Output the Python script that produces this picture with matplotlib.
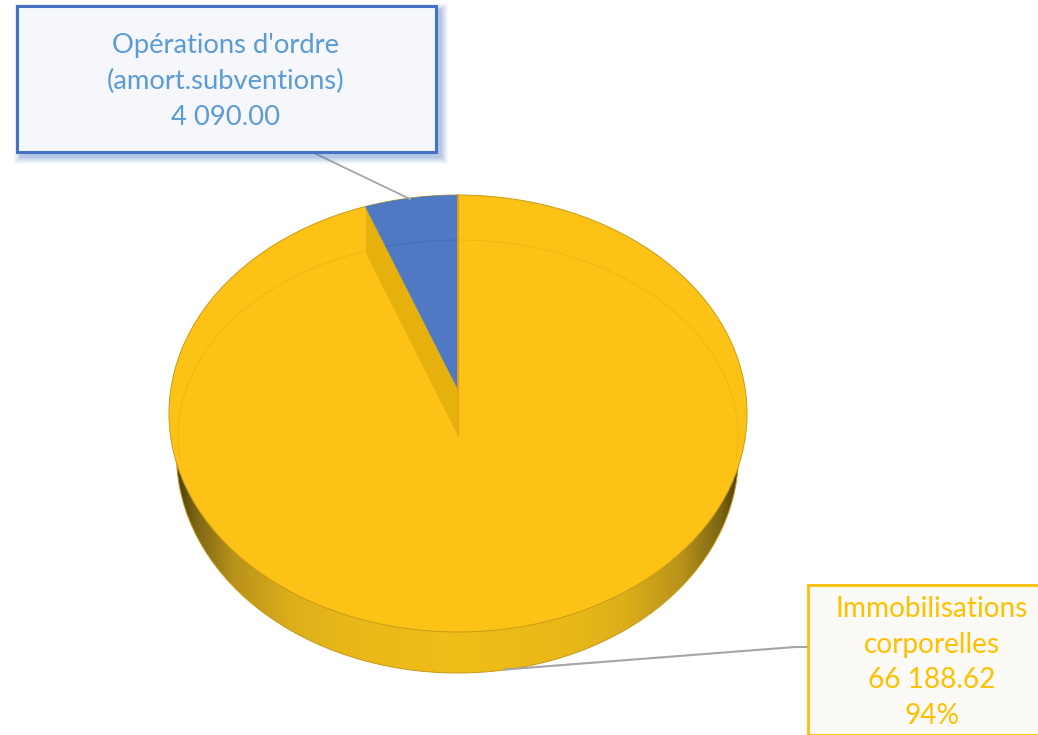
import numpy as np
import matplotlib
matplotlib.use("Agg")
import matplotlib.pyplot as plt
from matplotlib.patches import Ellipse, Wedge, Polygon, Rectangle, Arc
from matplotlib.transforms import Affine2D
from matplotlib.colors import LinearSegmentedColormap

plt.rcParams['font.family'] = ['Lato', 'DejaVu Sans']

categories = ["Opérations d'ordre\n(amort.subventions)", "Immobilisations\ncorporelles"]
values = [4090.00, 66188.62]
value_labels = ["4 090.00", "66 188.62"]
percent_labels = ["", "94%"]

fig = plt.figure(figsize=(10.38, 7.35), dpi=100)
ax = fig.add_axes([0, 0, 1, 1])
ax.set_xlim(0, 1038)
ax.set_ylim(735, 0)
ax.axis('off')

cx, cy, rx, ry = 458, 413.5, 289, 218.5
bx, by, brx, bry = 457.5, 455, 281, 218
apex_blue_y = 390
apex_yellow_y = 436
in_rx, in_ry = 280, 196
YEL = '#FDC216'

share = values[0] / sum(values)
span = 360 * share
th = np.deg2rad(90 + span)
aspect = rx / ry

# side (body) with gradient
cmap = LinearSegmentedColormap.from_list('side', [
    (0.00, '#4d3f10'), (0.03, '#7c6413'), (0.10, '#b8921a'), (0.20, '#dcae1a'),
    (0.30, '#e9b819'), (0.50, '#f1bd18'), (0.70, '#e9b819'), (0.80, '#dcae1a'),
    (0.90, '#b8921a'), (0.97, '#7c6413'), (1.00, '#4d3f10')])
grad = np.linspace(0, 1, 512).reshape(1, -1)
im = ax.imshow(grad, cmap=cmap, extent=(bx - brx, bx + brx, by + bry, by - bry), aspect='auto', zorder=1)
body = Ellipse((bx, by), 2 * brx, 2 * bry, facecolor='none', edgecolor='#c79a16', lw=0.7, zorder=2)
ax.add_patch(body)
im.set_clip_path(body)
ax.set_xlim(0, 1038)
ax.set_ylim(735, 0)

# top face
top = Ellipse((cx, cy), 2 * rx, 2 * ry, facecolor=YEL, edgecolor='#c99c18', lw=0.7, zorder=3)
ax.add_patch(top)

# inner rim line (upper half)
ax.add_patch(Arc((458, apex_yellow_y), 2 * in_rx, 2 * in_ry, theta1=175, theta2=365,
                 color='#f0b814', lw=0.8, zorder=4))

# wall beneath the blue slice's left edge
edge_top = (cx + (apex_blue_y - 208) * np.cos(th) / np.sin(th) * aspect, 208)
edge_bot = (cx + in_rx * np.cos(th) * 0.92, apex_yellow_y - in_ry * np.sin(th) * 1.0)
wall = Polygon([(cx, apex_blue_y), edge_top, edge_bot, (cx, apex_yellow_y)],
               closed=True, facecolor='#E6B00D', edgecolor='none', zorder=5)
ax.add_patch(wall)
wall.set_clip_path(top)

# blue slice, drawn from its share of the total
tr = Affine2D().scale(aspect, -1).translate(cx, apex_blue_y) + ax.transData
blue = Wedge((0, 0), 400, 90, 90 + span, facecolor='#4F7AC3', edgecolor='none',
             transform=tr, zorder=6)
ax.add_patch(blue)
blue.set_clip_path(top)
arc = Arc((458, apex_yellow_y), 2 * in_rx, 2 * in_ry, theta1=270 - span, theta2=270,
          color='#4470BB', lw=0.9, zorder=7)
ax.add_patch(arc)
arc.set_clip_path(blue.get_path(), blue.get_transform())
ax.plot([cx, cx], [cy - ry, apex_blue_y], color='#E8971F', lw=1.4, zorder=7)
ax.plot([cx, cx], [apex_blue_y, apex_yellow_y], color='#E5A51C', lw=1.0, zorder=7)

# leader lines
ax.plot([312, 410], [152, 199], color='#A5A5A5', lw=1.3, zorder=8)
ax.plot([505, 795, 807], [669.5, 647, 647], color='#A5A5A5', lw=1.5, zorder=2.5)

# shadow of blue box
for i, a in zip(range(11, 0, -1), np.linspace(0.012, 0.07, 11)):
    ax.add_patch(Rectangle((16 + 5 - i * 0.7, 5 + 5 - i * 0.7), 420 + i * 1.4, 147 + i * 1.4,
                           facecolor='#4472C4', edgecolor='none', alpha=a, zorder=8.5))

# label boxes
ax.add_patch(Rectangle((16.5, 5.5), 419.5, 146.5, facecolor='#F5F7FA', edgecolor='#4472C4', lw=2.2, zorder=9))
ax.add_patch(Rectangle((807.5, 584.5), 240, 150, facecolor='#FBFAF6', edgecolor='#FFC000', lw=2.0,
                       zorder=9, clip_on=True))

ax.text(226, 81.5, categories[0] + "\n" + value_labels[0], color='#5B9BD5', fontsize=19.7, ha='center', va='center',
        linespacing=1.53, zorder=10)
ax.text(931.5, 662.5, categories[1] + "\n" + value_labels[1] + "\n" + percent_labels[1], color='#FFC000',
        fontsize=20.2, ha='center', va='center', linespacing=1.46, zorder=10)

fig.savefig('out.png', dpi=100)
